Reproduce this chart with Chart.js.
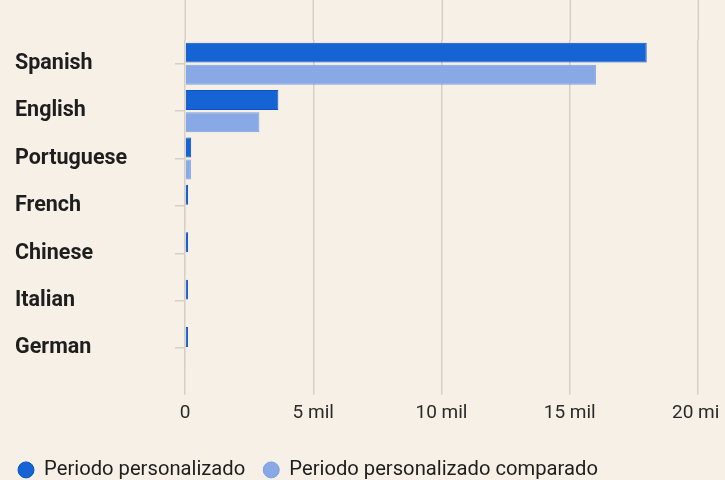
<!DOCTYPE html>
<html>
<head>
<meta charset="utf-8">
<script src="https://cdn.jsdelivr.net/npm/chart.js@4"></script>
<style>
  html, body { margin: 0; padding: 0; background: #f7f0e6; }
  .wrap { width: 719px; height: 480px; overflow: hidden; }
  .box { width: 760px; height: 490px; }
</style>
</head>
<body>
<div class="wrap"><div class="box"><canvas id="chart"></canvas></div></div>
<script>
const languages = ['Spanish', 'English', 'Portuguese', 'French', 'Chinese', 'Italian', 'German'];
const currentPeriod = [18000, 3640, 240, 120, 120, 115, 115];
const comparedPeriod = [16020, 2900, 230, 45, 45, 40, 40];
const seriesNames = ['Periodo personalizado', 'Periodo personalizado comparado'];
const xTicks = [0, 5000, 10000, 15000, 20000];

const gridColor = '#d6cfc5';

// grid lines run up to the top edge, above the plot area
const gridTop = {
  id: 'gridTop',
  afterLayout(chart) {
    chart.scales.y.left = 15;
  },
  beforeDatasetsDraw(chart) {
    const { ctx, chartArea, scales: { x } } = chart;
    ctx.save();
    ctx.strokeStyle = gridColor;
    ctx.lineWidth = 1.5;
    x.ticks.forEach(t => {
      const px = Math.round(x.getPixelForValue(t.value)) + 0.25;
      ctx.beginPath();
      ctx.moveTo(px, 0);
      ctx.lineTo(px, chartArea.top);
      ctx.stroke();
    });
    ctx.restore();
  }
};

new Chart(document.getElementById('chart'), {
  type: 'bar',
  data: {
    labels: languages,
    datasets: [
      {
        label: seriesNames[0],
        data: currentPeriod,
        backgroundColor: '#1664d4',
        borderColor: '#0a52c6',
        borderWidth: 1,
        categoryPercentage: 0.935,
        barPercentage: 0.9,
      },
      {
        label: seriesNames[1],
        data: comparedPeriod,
        backgroundColor: '#88a9e6',
        borderColor: '#7b9fe0',
        borderWidth: 1,
        categoryPercentage: 0.935,
        barPercentage: 0.9,
      },
    ],
  },
  options: {
    indexAxis: 'y',
    responsive: true,
    maintainAspectRatio: false,
    animation: false,
    layout: { padding: { top: 40, right: 62, left: 0, bottom: 0 } },
    scales: {
      x: {
        min: 0,
        max: 20000,
        afterBuildTicks: (scale) => {
          scale.ticks = xTicks.map(v => ({ value: v }));
        },
        afterFit: (scale) => {
          scale.height = 70;
        },
        grid: { color: gridColor, lineWidth: 1.5, tickLength: 23 },
        border: { display: false },
        ticks: {
          padding: 7,
          color: '#2a2a2a',
          font: { family: 'Roboto', size: 19 },
          callback: (v) => (v === 0 ? '0' : v / 1000 + ' mil'),
        },
      },
      y: {
        afterFit: (scale) => {
          scale.width = 185;
        },
        grid: { drawOnChartArea: false, offset: false, color: gridColor, lineWidth: 1.5, tickLength: 10 },
        border: { display: false },
        ticks: {
          crossAlign: 'far',
          color: '#1e1e1e',
          font: { family: 'Roboto', size: 21.5, weight: 'bold' },
        },
      },
    },
    plugins: {
      legend: {
        position: 'bottom',
        align: 'start',
        labels: {
          usePointStyle: true,
          pointStyle: 'circle',
          boxWidth: 16,
          boxHeight: 11.3,
          padding: 18,
          color: '#1e1e1e',
          font: { family: 'Roboto', size: 20.2 },
        },
      },
      tooltip: { enabled: false },
    },
  },
  plugins: [gridTop],
});
</script>
</body>
</html>
